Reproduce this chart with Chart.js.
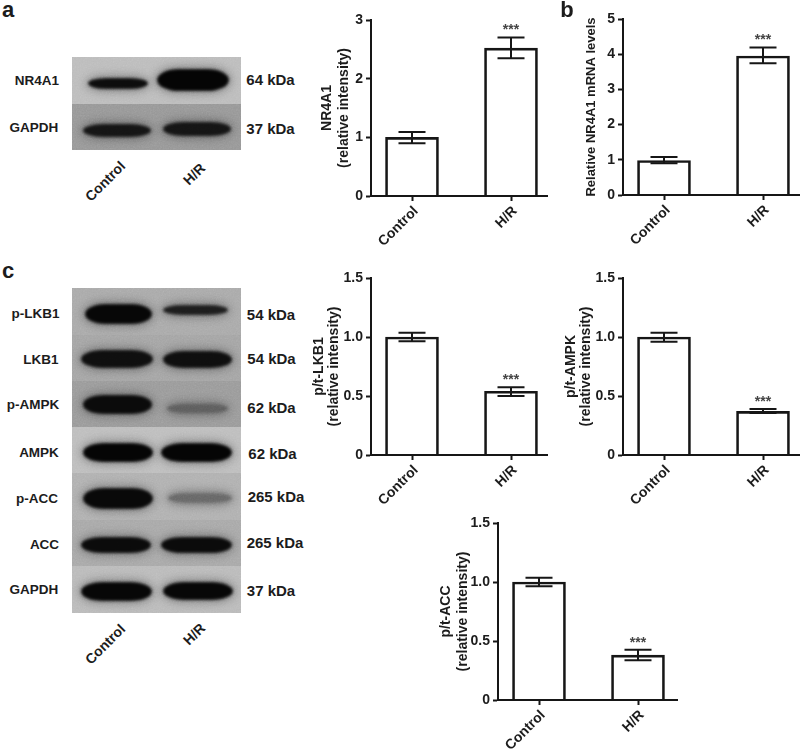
<!DOCTYPE html>
<html>
<head>
<meta charset="utf-8">
<title>NR4A1 H/R</title>
<script src="https://cdn.jsdelivr.net/npm/chart.js"></script>
<style>
  html, body { margin: 0; padding: 0; background: #fff; }
  body { position: relative; width: 800px; height: 749px; overflow: hidden; font-family: "Liberation Sans", Arial, sans-serif; color: #1c1c1c; }
  canvas { position: absolute; }
  .lbl { position: absolute; font-weight: bold; white-space: nowrap; transform: translate(-50%, -50%); }
  .blotpanel { position: absolute; overflow: hidden; }
  .strip { position: absolute; left: 0; width: 100%; }
  .band { position: absolute; border-radius: 30% / 50%; filter: blur(1.4px); }
  .grain { position: absolute; left: 0; top: 0; width: 100%; height: 100%; filter: url(#grain); opacity: .22; mix-blend-mode: overlay; }
</style>
</head>
<body>
<svg width="0" height="0" style="position:absolute">
  <filter id="grain"><feTurbulence type="fractalNoise" baseFrequency="0.7" numOctaves="2"/><feColorMatrix type="saturate" values="0"/></filter>
</svg>

<canvas id="chartA"></canvas>
<canvas id="chartB"></canvas>
<canvas id="chartC1"></canvas>
<canvas id="chartC2"></canvas>
<canvas id="chartC3"></canvas>

<script>
var categories = ['Control', 'H/R'];

// mean, then top and bottom of the error bars
var nr4a1Protein = [1.0, 2.52];
var nr4a1ProteinHigh = [1.09, 2.70];
var nr4a1ProteinLow = [0.90, 2.35];

var nr4a1Mrna = [0.98, 3.95];
var nr4a1MrnaHigh = [1.08, 4.19];
var nr4a1MrnaLow = [0.90, 3.74];

var lkb1 = [1.0, 0.54];
var lkb1High = [1.035, 0.575];
var lkb1Low = [0.965, 0.50];

var ampk = [1.0, 0.37];
var ampkHigh = [1.035, 0.39];
var ampkLow = [0.96, 0.355];

var acc = [1.0, 0.38];
var accHigh = [1.035, 0.425];
var accLow = [0.965, 0.337];

var stars = '***';
var INK = '#161616';

// error bars and stars, placed with the chart's own scales
var errorBarPlugin = {
  id: 'errorBars',
  afterDatasetsDraw: function(chart, args, opts){
    var ctx = chart.ctx, x = chart.scales.x, y = chart.scales.y;
    ctx.save();
    ctx.strokeStyle = INK;
    ctx.lineWidth = 2;
    for (var i = 0; i < categories.length; i++) {
      var px = x.getPixelForValue(i);
      var hi = y.getPixelForValue(opts.high[i]);
      var lo = y.getPixelForValue(opts.low[i]);
      ctx.beginPath();
      ctx.moveTo(px, hi); ctx.lineTo(px, lo);
      ctx.moveTo(px - 13.5, hi); ctx.lineTo(px + 13.5, hi);
      ctx.moveTo(px - 13.5, lo); ctx.lineTo(px + 13.5, lo);
      ctx.stroke();
    }
    // only the H/R bar is marked
    ctx.fillStyle = '#444';
    ctx.font = 'bold 14px "Liberation Sans"';
    ctx.textAlign = 'center';
    ctx.textBaseline = 'middle';
    ctx.fillText(stars, x.getPixelForValue(1), y.getPixelForValue(opts.high[1]) - 7);
    ctx.restore();
  }
};

function drawBars(id, box, values, high, low, yMax, step, title, titleSize, titleLine, titlePad){
  var el = document.getElementById(id);
  var yWidth = 60, xHeight = 55, padTop = 12;
  var w = yWidth + box.w, h = padTop + box.h + xHeight;
  el.style.left = (box.x - yWidth) + 'px';
  el.style.top = (box.y - padTop) + 'px';
  el.style.width = w + 'px';
  el.style.height = h + 'px';
  el.width = w;
  el.height = h;

  var points = values.map(function(v, i){ return {x: i, y: v}; });
  var xMin = -41 / 99;

  new Chart(el.getContext('2d'), {
    type: 'bar',
    data: {
      datasets: [{
        data: points,
        backgroundColor: 'transparent',
        borderColor: INK,
        borderWidth: 2,
        barThickness: 53
      }]
    },
    options: {
      responsive: false,
      animation: false,
      layout: { padding: { top: padTop, left: 0, right: 0, bottom: 0 } },
      plugins: {
        legend: { display: false },
        tooltip: { enabled: false },
        errorBars: { high: high, low: low }
      },
      scales: {
        x: {
          type: 'linear',
          offset: false,
          min: xMin,
          max: xMin + box.w / 99,
          afterBuildTicks: function(scale){
            scale.ticks = categories.map(function(c, i){ return {value: i}; });
          },
          afterFit: function(scale){
            scale.height = xHeight;
            scale.paddingLeft = 0;
            scale.paddingRight = 0;
          },
          border: { display: true, color: INK, width: 2 },
          grid: { display: true, offset: false, drawOnChartArea: false, drawTicks: true, tickLength: 5, tickWidth: 2, tickColor: INK },
          ticks: {
            autoSkip: false,
            minRotation: 45,
            maxRotation: 45,
            padding: 2,
            labelOffset: 4,
            color: '#1c1c1c',
            font: { family: '"Liberation Sans"', weight: 'bold', size: 14 },
            callback: function(v){ return categories[v]; }
          }
        },
        y: {
          min: 0,
          max: yMax,
          afterFit: function(scale){ scale.width = yWidth; },
          border: { display: true, color: INK, width: 2 },
          grid: { display: true, drawOnChartArea: false, drawTicks: true, tickLength: 5, tickWidth: 2, tickColor: INK },
          ticks: {
            stepSize: step,
            padding: 3,
            color: '#1c1c1c',
            font: { family: '"Liberation Sans"', weight: 'bold', size: 14 }
          },
          title: {
            display: true,
            text: title,
            color: '#1c1c1c',
            padding: { top: titlePad, bottom: 0 },
            font: { family: '"Liberation Sans"', weight: 'bold', size: titleSize, lineHeight: titleLine / titleSize }
          }
        }
      }
    },
    plugins: [errorBarPlugin]
  });
}

var intensity = '(relative intensity)';
drawBars('chartA', {x: 371, y: 20, w: 177, h: 176}, nr4a1Protein, nr4a1ProteinHigh, nr4a1ProteinLow, 3, 1, ['NR4A1', intensity], 14, 17, 8);
drawBars('chartB', {x: 623, y: 19, w: 177, h: 176}, nr4a1Mrna, nr4a1MrnaHigh, nr4a1MrnaLow, 5, 1, 'Relative NR4A1 mRNA levels', 13, 17, 20);
drawBars('chartC1', {x: 371, y: 278, w: 177, h: 177}, lkb1, lkb1High, lkb1Low, 1.5, 0.5, ['p/t-LKB1', intensity], 14, 15, 0.5);
drawBars('chartC2', {x: 623, y: 278, w: 177, h: 177}, ampk, ampkHigh, ampkLow, 1.5, 0.5, ['p/t-AMPK', intensity], 14, 15, 0.5);
drawBars('chartC3', {x: 498, y: 523, w: 180, h: 177}, acc, accHigh, accLow, 1.5, 0.5, ['p/t-ACC', intensity], 14, 17, 0);

// western blot photographs, approximated with blurred bands
// strip: [top, height, grey]   band: [left, top, width, height, grey]
var blotA = {
  x: 72, y: 57, w: 169, h: 93,
  strips: [[0, 47, '#bcbcbc'], [47, 46, '#979797']],
  bands: [[16, 21, 60, 11, '#0c0c0c'], [85, 12, 72, 22, '#040404'],
          [11, 67, 68, 13, '#141414'], [91, 65, 68, 14, '#141414']]
};
var blotC = {
  x: 72, y: 288, w: 169, h: 325,
  strips: [[0, 47, '#a9a9a9'], [47, 46, '#a4a4a4'], [93, 46, '#9a9a9a'], [139, 46, '#bdbdbd'],
           [185, 47, '#b0b0b0'], [232, 46, '#a8a8a8'], [278, 47, '#bababa']],
  bands: [[13, 16, 67, 20, '#060606'], [91, 17, 65, 10, '#1c1c1c'],
          [9, 62, 72, 18, '#0e0e0e'], [91, 63, 69, 17, '#0e0e0e'],
          [11, 107, 69, 19, '#0a0a0a'], [95, 116, 61, 9, '#5c5c5c'],
          [11, 155, 70, 19, '#040404'], [89, 155, 71, 19, '#040404'],
          [11, 200, 70, 21, '#080808'], [96, 205, 64, 10, '#666666'],
          [9, 249, 70, 16, '#0a0a0a'], [89, 249, 71, 16, '#0a0a0a'],
          [9, 294, 71, 19, '#060606'], [91, 294, 70, 18, '#060606']]
};

function drawBlot(b){
  var panel = document.createElement('div');
  panel.className = 'blotpanel';
  panel.style.cssText = 'left:' + b.x + 'px;top:' + b.y + 'px;width:' + b.w + 'px;height:' + b.h + 'px';
  b.strips.forEach(function(s){
    var d = document.createElement('div');
    d.className = 'strip';
    d.style.top = s[0] + 'px';
    d.style.height = s[1] + 'px';
    d.style.background = s[2];
    panel.appendChild(d);
  });
  b.bands.forEach(function(n){
    var d = document.createElement('div');
    d.className = 'band';
    d.style.cssText = 'left:' + n[0] + 'px;top:' + n[1] + 'px;width:' + n[2] + 'px;height:' + n[3] + 'px;background:' + n[4] +
      ';box-shadow:0 0 9px 2px rgba(0,0,0,.35)';
    panel.appendChild(d);
  });
  var g = document.createElement('div');
  g.className = 'grain';
  panel.appendChild(g);
  document.body.appendChild(panel);
}
drawBlot(blotA);
drawBlot(blotC);

// text: [string, centre x, centre y, size, rotation]
var texts = [
  ['a', 8, 10, 22, 0], ['b', 567, 10, 22, 0], ['c', 8, 271, 22, 0],
  ['NR4A1', 37, 80, 13.5, 0], ['GAPDH', 34, 127, 13.5, 0],
  ['64 kDa', 270.5, 79, 15, 0], ['37 kDa', 270.5, 128, 15, 0],
  ['Control', 105, 181, 14, -45], ['H/R', 194, 174, 14, -45],
  ['p-LKB1', 35.5, 313, 13.5, 0], ['LKB1', 41, 359, 13.5, 0], ['p-AMPK', 33, 404, 13.5, 0],
  ['AMPK', 39, 452, 13.5, 0], ['p-ACC', 37, 498, 13.5, 0], ['ACC', 44.5, 544, 13.5, 0], ['GAPDH', 34, 589, 13.5, 0],
  ['54 kDa', 271, 314, 15, 0], ['54 kDa', 271.5, 358, 15, 0], ['62 kDa', 271.5, 407, 15, 0],
  ['62 kDa', 272.5, 453, 15, 0], ['265 kDa', 276, 496, 15, 0], ['265 kDa', 275, 542, 15, 0], ['37 kDa', 271, 590, 15, 0],
  ['Control', 105, 644, 14, -45], ['H/R', 194, 634, 14, -45]
];
texts.forEach(function(t){
  var s = document.createElement('span');
  s.className = 'lbl';
  s.textContent = t[0];
  s.style.left = t[1] + 'px';
  s.style.top = t[2] + 'px';
  s.style.fontSize = t[3] + 'px';
  if (t[4]) s.style.transform = 'translate(-50%, -50%) rotate(' + t[4] + 'deg)';
  document.body.appendChild(s);
});
</script>
</body>
</html>
